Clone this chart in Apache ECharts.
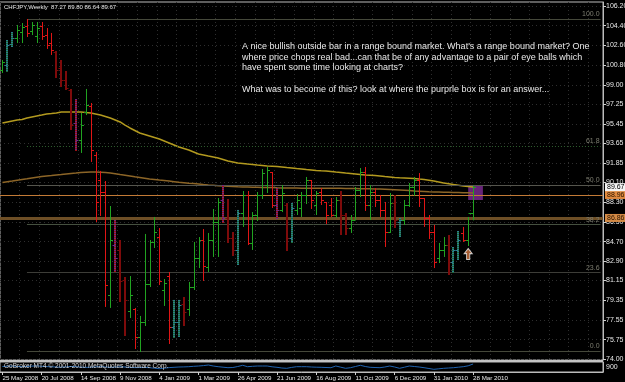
<!DOCTYPE html>
<html><head><meta charset="utf-8">
<script src="https://cdn.jsdelivr.net/npm/echarts@6/dist/echarts.min.js"></script>
<style>html,body{margin:0;padding:0;background:#000;}#c{width:625px;height:382px;}</style>
</head><body><div id="c"></div>
<script>
const xLabels = ['25 May 2008','20 Jul 2008','14 Sep 2008','9 Nov 2008','4 Jan 2009','1 Mar 2009','26 Apr 2009','21 Jun 2009','16 Aug 2009','11 Oct 2009','6 Dec 2009','31 Jan 2010','28 Mar 2010'];
const slotCount = 123;
const yTickValues = [106.20,104.40,102.60,100.80,99.00,97.25,95.45,93.65,91.85,90.10,88.30,86.50,84.70,82.90,81.15,79.35,77.55,75.75,74.00];

const opens = [100.36,100.82,102.73,103.28,103.83,104.37,103.92,103.46,104.37,103.55,
102.82,102.00,100.54,99.45,98.54,95.52,93.97,96.53,97.08,92.60,
90.32,89.23,79.83,84.39,83.94,81.20,78.37,78.55,76.00,77.37,
80.83,84.67,85.12,80.29,81.56,76.91,77.37,79.01,78.55,80.56,
83.21,84.85,82.39,84.85,86.49,88.50,86.86,85.03,83.94,87.31,
88.96,84.58,87.13,88.96,89.87,91.05,88.04,87.59,88.04,85.03,
87.59,87.77,88.96,90.32,88.04,89.23,88.32,88.04,87.13,88.50,
87.13,85.94,86.67,89.41,91.05,88.04,89.23,88.50,87.59,85.58,
88.23,86.49,86.67,88.04,89.69,90.32,88.68,86.86,85.58,83.21,
83.94,84.39,82.84,83.94,85.49,84.85,87.27];
const highs = [101.27,103.10,103.83,104.47,104.65,105.01,104.74,104.74,104.74,104.19,
103.74,102.09,101.27,100.27,98.63,97.71,96.44,98.63,97.35,92.88,
91.15,90.23,87.95,86.67,84.85,81.47,81.56,78.65,77.92,85.40,
84.85,86.95,85.94,81.29,81.93,79.38,79.38,79.65,81.02,84.67,
85.12,85.85,85.49,87.68,88.68,89.87,88.59,85.58,87.59,89.32,
89.32,87.40,89.23,91.33,91.51,91.05,89.59,89.87,88.23,88.23,
89.05,89.23,90.60,90.32,89.32,89.59,88.32,88.68,88.77,89.32,
87.31,87.13,89.69,91.42,91.51,89.87,89.59,88.96,88.32,89.14,
88.96,86.86,88.50,90.05,90.60,90.96,88.68,87.13,86.22,84.58,
85.12,85.31,84.21,85.67,86.04,86.95,89.80];
const lows = [100.09,100.18,102.46,102.82,102.82,103.37,103.55,102.82,103.10,102.28,
101.73,99.63,98.81,98.54,94.89,92.97,92.79,96.25,91.97,86.49,
87.04,78.74,78.65,81.93,79.19,76.09,77.73,74.90,74.63,77.00,
80.56,84.12,80.74,78.83,75.36,75.91,76.00,77.00,77.92,80.29,
82.29,81.11,81.93,83.30,83.30,86.40,84.58,83.39,82.57,86.04,
84.39,83.94,86.58,88.59,89.14,87.77,86.77,87.40,83.85,84.58,
87.13,86.95,88.13,87.68,87.13,88.04,86.31,86.95,86.86,85.31,
85.31,85.49,86.67,88.77,87.50,86.67,87.86,86.95,84.21,85.49,
85.94,85.12,86.22,87.86,88.86,87.86,86.04,84.94,82.29,82.75,
83.30,81.66,81.84,83.02,84.67,84.30,86.64];
const closes = [101.09,102.64,103.28,104.01,104.28,103.74,104.47,104.19,103.46,102.64,
102.19,100.36,99.45,98.72,95.34,93.97,95.34,97.17,93.06,88.32,
89.23,80.74,84.85,83.21,81.11,79.38,79.83,76.00,77.37,80.83,
84.67,85.58,81.11,80.93,76.91,77.37,78.92,78.28,80.56,83.21,
84.85,82.48,84.85,86.49,88.32,86.86,85.03,83.94,87.31,88.96,
84.58,87.13,88.96,90.96,91.24,88.04,87.59,89.14,85.03,87.77,
88.50,88.96,90.32,88.50,89.14,88.50,87.13,87.13,88.50,87.13,
85.94,86.67,89.41,91.05,88.04,89.23,88.50,87.59,85.58,88.23,
86.67,86.67,88.04,89.69,90.32,88.68,86.86,85.58,82.84,83.94,
84.39,82.84,83.94,84.85,84.85,87.27,89.67];
const barTypes = ['g','t','t','g','g','r','g','g','r','r',
'r','d','d','d','d','p','g','g','r','r',
'r','r','g','p','d','d','g','r','g','g',
'g','g','r','g','r','t','t','d','g','g',
'g','r','g','g','g','p','d','d','t','g',
'r','g','g','g','g','r','p','g','d','t',
'g','g','g','r','g','r','r','r','g','d',
'd','g','g','g','r','g','r','r','r','g',
'd','t','g','g','g','r','r','r','r','g',
'g','d','t','t','r','g','g'];
const maSlow = [95.52,95.62,95.71,95.80,95.84,95.98,96.07,96.16,96.25,96.35,
96.39,96.44,96.53,96.53,96.53,96.53,96.53,96.48,96.44,96.35,
96.25,96.12,95.98,95.80,95.62,95.34,95.07,94.84,94.61,94.48,
94.34,94.20,94.06,93.88,93.70,93.52,93.33,93.20,93.06,92.88,
92.70,92.61,92.51,92.42,92.33,92.20,92.06,91.97,91.88,91.83,
91.78,91.74,91.69,91.65,91.60,91.58,91.56,91.51,91.46,91.42,
91.37,91.33,91.28,91.24,91.19,91.16,91.15,91.10,91.05,91.01,
90.96,90.92,90.87,90.82,90.78,90.76,90.73,90.69,90.64,90.60,
90.55,90.52,90.51,90.49,90.46,90.41,90.37,90.31,90.23,90.14,
90.05,89.98,89.91,89.85,89.78,89.73,89.69];
const maFast = [90.10,90.17,90.23,90.31,90.37,90.43,90.51,90.58,90.64,90.69,
90.73,90.78,90.82,90.87,90.92,90.96,91.01,91.03,91.05,91.05,
91.03,91.00,90.96,90.90,90.82,90.76,90.69,90.61,90.55,90.49,
90.41,90.37,90.32,90.28,90.23,90.17,90.11,90.08,90.03,90.00,
89.96,89.91,89.87,89.84,89.80,89.78,89.75,89.73,89.70,89.69,
89.69,89.67,89.66,89.65,89.64,89.63,89.61,89.60,89.59,89.59,
89.59,89.58,89.58,89.58,89.57,89.57,89.57,89.57,89.56,89.56,
89.55,89.55,89.54,89.53,89.53,89.52,89.51,89.50,89.48,89.46,
89.44,89.42,89.39,89.36,89.32,89.30,89.28,89.25,89.23,89.22,
89.21,89.20,89.19,89.18,89.17,89.16,89.14];
const indicator = [5.5,5.8,6.0,5.6,5.2,5.5,5.9,6.1,5.7,5.4,
5.2,5.0,4.8,5.1,5.5,5.3,4.9,4.6,4.8,5.1,
5.4,5.0,4.7,4.9,5.2,5.0,4.6,4.4,4.5,4.6,
4.3,3.8,3.3,3.8,4.4,4.7,5.0,5.1,5.3,5.7,
6.0,6.4,7.0,6.0,5.3,4.8,4.3,4.5,5.5,6.7,
5.3,5.7,6.0,6.0,6.0,5.2,4.7,4.0,3.7,4.6,
5.3,5.3,5.3,5.0,4.8,4.7,4.5,4.3,6.0,4.8,
3.7,4.3,5.5,6.7,5.5,4.7,4.5,4.3,5.0,6.0,
5.0,3.7,4.8,6.0,5.5,5.0,4.3,3.5,2.7,3.2,
3.7,4.0,4.3,4.8,5.3,6.2,8.0];
const fibStartBar = 5;
const fibPrices = [105.01, 93.44, 89.87, 86.29, 81.87, 74.72];
const fibNames = ['100.0','61.8','50.0','38.2','23.6','0.0'];
const fibColors = ['#45483a','#2f5f2f','#55554d','#45503f','#3d3d38','#45483a'];
const levelOrange = 88.96;
const levelBrown = 86.86;
const bidPrice = 89.67;
const boxRange = {x: [95, 98], y: [89.78, 88.50]};
const arrowPoint = [95, 83.57];

const categories = [];
for (let i = 0; i < slotCount; i++) categories.push(String(i));

const COLORS = {g:'#21a321', r:'#e01515', d:'#7e0b0b', t:'#2b7f8d', p:'#6e2a84'};
const WIDTHS = {g:1, r:1, d:2, t:2, p:2};

function renderBar(params, api) {
  const i = api.value(0);
  const pO = api.coord([i, api.value(1)]);
  const pC = api.coord([i, api.value(2)]);
  const pL = api.coord([i, api.value(3)]);
  const pH = api.coord([i, api.value(4)]);
  const type = barTypes[params.dataIndex];
  const w = WIDTHS[type];
  const col = COLORS[type];
  const x = w === 1 ? Math.round(pO[0]) + 0.5 : Math.round(pO[0]);
  const yo = Math.round(pO[1]) + 0.5, yc = Math.round(pC[1]) + 0.5;
  const main = {stroke: col, lineWidth: w};
  if (type === 't' || type === 'p') main.lineDash = [1, 1];
  const children = [];
  if (type === 'p') children.push({type:'line', shape:{x1:x, y1:pH[1], x2:x, y2:pL[1]}, style:{stroke:'#a01010', lineWidth:2}});
  if (type === 't') children.push({type:'line', shape:{x1:x, y1:pH[1], x2:x, y2:pL[1]}, style:{stroke:'#1f6a3a', lineWidth:2}});
  children.push({type:'line', shape:{x1:x, y1:pH[1], x2:x, y2:pL[1]}, style: main});
  children.push({type:'line', shape:{x1:x - 2.5, y1:yo, x2:x, y2:yo}, style:{stroke: col, lineWidth:1}});
  children.push({type:'line', shape:{x1:x, y1:yc, x2:x + 2.5, y2:yc}, style:{stroke: col, lineWidth:1}});
  return {type:'group', children};
}

const barData = opens.map((o, i) => [i, o, closes[i], lows[i], highs[i]]);

const fibLines = fibPrices.map((v, k) => [
  {coord:[fibStartBar, v], lineStyle:{color: fibColors[k], type: k === 1 ? [1,2] : 'solid', width: 1},
   label:{show:true, formatter: fibNames[k], position:'insideEndTop', distance:1, color:'#7d7d70', fontSize:7, fontFamily:'Liberation Sans Narrow, Liberation Sans, sans-serif'}},
  {coord:[slotCount - 1, v]}
]);

const smallFont = 'Liberation Sans Narrow, Liberation Sans, sans-serif';
const showLabel = (idx) => idx % 8 === 0 && idx / 8 < xLabels.length;

const option = {
  backgroundColor: '#000',
  animation: false,
  grid: [
    {left:0, right:22, top:2, height:358, show:true, borderColor:'#bcbcbc', borderWidth:1, backgroundColor:'#000', containLabel:false, outerBoundsMode:'none'},
    {left:0, right:22, top:362, height:10, show:true, borderColor:'#bcbcbc', borderWidth:1, backgroundColor:'#000', containLabel:false, outerBoundsMode:'none'}
  ],
  xAxis: [
    {type:'category', gridIndex:0, data:categories, boundaryGap:true,
     axisLine:{show:false}, axisTick:{show:false}, axisLabel:{show:false},
     splitLine:{show:true, interval:(idx) => idx % 4 === 0, lineStyle:{color:'#2e2e2e', type:[1,3]}}},
    {type:'category', gridIndex:1, data:categories, boundaryGap:true,
     axisLine:{show:true, lineStyle:{color:'#bcbcbc'}},
     axisTick:{show:true, alignWithLabel:true, length:3, interval: showLabel, lineStyle:{color:'#d0d0d0'}},
     axisLabel:{show:true, showMinLabel:true, interval: showLabel,
       formatter:(v, idx) => xLabels[idx / 8] || '', align:'left', margin:3, color:'#e8e8e8', fontSize:6.2, fontFamily: smallFont},
     splitLine:{show:false}}
  ],
  yAxis: [
    {type:'value', gridIndex:0, position:'right', min:73.9, max:106.565, scale:true,
     axisLine:{show:true, lineStyle:{color:'#bcbcbc'}},
     axisTick:{show:true, length:3, customValues:yTickValues, lineStyle:{color:'#d0d0d0'}},
     axisLabel:{show:true, customValues:yTickValues, formatter:(v) => v.toFixed(2), margin:3, color:'#e8e8e8', fontSize:7, fontFamily: smallFont},
     splitLine:{show:true, lineStyle:{color:'#2e2e2e', type:[1,3]}}},
    {type:'value', gridIndex:1, position:'right', min:0, max:10,
     axisLine:{show:true, lineStyle:{color:'#bcbcbc'}},
     axisTick:{show:false},
     axisLabel:{show:true, customValues:[5], formatter:() => '900', margin:3, color:'#e8e8e8', fontSize:7, fontFamily: smallFont},
     splitLine:{show:false}}
  ],
  series: [
    {type:'line', name:'maSlow', xAxisIndex:0, yAxisIndex:0, data:maSlow, symbol:'none', z:3,
     lineStyle:{color:'#b39a1f', width:1.5},
     markLine:{silent:true, symbol:['none','none'], data: fibLines},
     markArea:{silent:true, itemStyle:{color:'rgba(112,38,130,0.92)'},
       data:[[{coord:[boxRange.x[0], boxRange.y[0]]}, {coord:[boxRange.x[1], boxRange.y[1]]}]]}},
    {type:'line', name:'maFast', xAxisIndex:0, yAxisIndex:0, data:maFast, symbol:'none', z:3,
     lineStyle:{color:'#8c6527', width:1.5},
     markLine:{silent:true, symbol:['none','none'], data:[
       {yAxis: levelOrange, lineStyle:{color:'#c27a36', width:1, type:'solid'},
        label:{show:true, position:'end', distance:2, formatter: levelOrange.toFixed(2), backgroundColor:'#e0893e', color:'#2a1500', padding:[1,2,0,2], fontSize:7, fontFamily: smallFont}},
       {yAxis: levelBrown, lineStyle:{color:'#6e4f26', width:3, type:'solid'},
        label:{show:true, position:'end', distance:2, formatter: levelBrown.toFixed(2), backgroundColor:'#d48a45', color:'#2a1500', padding:[1,2,0,2], fontSize:7, fontFamily: smallFont}},
       {yAxis: bidPrice, lineStyle:{color:'rgba(0,0,0,0)', width:1},
        label:{show:true, position:'end', distance:2, formatter: bidPrice.toFixed(2), backgroundColor:'#f4f4f4', color:'#000', padding:[1,2,0,2], fontSize:7, fontFamily: smallFont}}
     ]}},
    {type:'custom', name:'bars', xAxisIndex:0, yAxisIndex:0, renderItem: renderBar, data: barData, z:6,
     encode:{x:0, y:[1,2,3,4]}},
    {type:'scatter', name:'arrow', xAxisIndex:0, yAxisIndex:0, data:[arrowPoint], z:7,
     symbol:'path://M5,0 L10,6 L7,6 L7,13 L3,13 L3,6 L0,6 Z', symbolSize:[8,11],
     itemStyle:{color:'#cf7440', borderColor:'#eeeeee', borderWidth:1}},
    {type:'line', name:'ind', xAxisIndex:1, yAxisIndex:1, data:indicator, symbol:'none', z:3,
     lineStyle:{color:'#2164b0', width:1}}
  ],
  graphic: [
    {type:'rect', shape:{x:0, y:360, width:603, height:2}, style:{fill:'#c4c4c4'}, z:100},
    {type:'text', left:4, top:4, z:100, style:{text:'CHFJPY,Weekly  87.27 89.80 86.64 89.67', fill:'#e6e6e6', font:'6px Liberation Sans Narrow, Liberation Sans, sans-serif'}},
    {type:'text', left:242, top:41, z:100, style:{
      text:"A nice bullish outside bar in a range bound market. What's a range bound market? One\nwhere price chops real bad...can that be of any advantage to a pair of eye balls which\nhave spent some time looking at charts?\n\nWhat was to become of this? look at where the purprle box is for an answer...",
      fill:'#e8e8e8', font:'9px Liberation Sans, Arial, sans-serif', lineHeight:10.8}},
    {type:'text', left:4, top:363, z:100, style:{text:'GoBroker MT4 \u00a9 2001-2010 MetaQuotes Software Corp.', fill:'#d8d8d8', font:'6.5px Liberation Sans Narrow, Liberation Sans, sans-serif'}}
  ]
};
const chart = echarts.init(document.getElementById('c'), null, {renderer:'canvas', width:625, height:382});
chart.setOption(option);
</script>
</body></html>
